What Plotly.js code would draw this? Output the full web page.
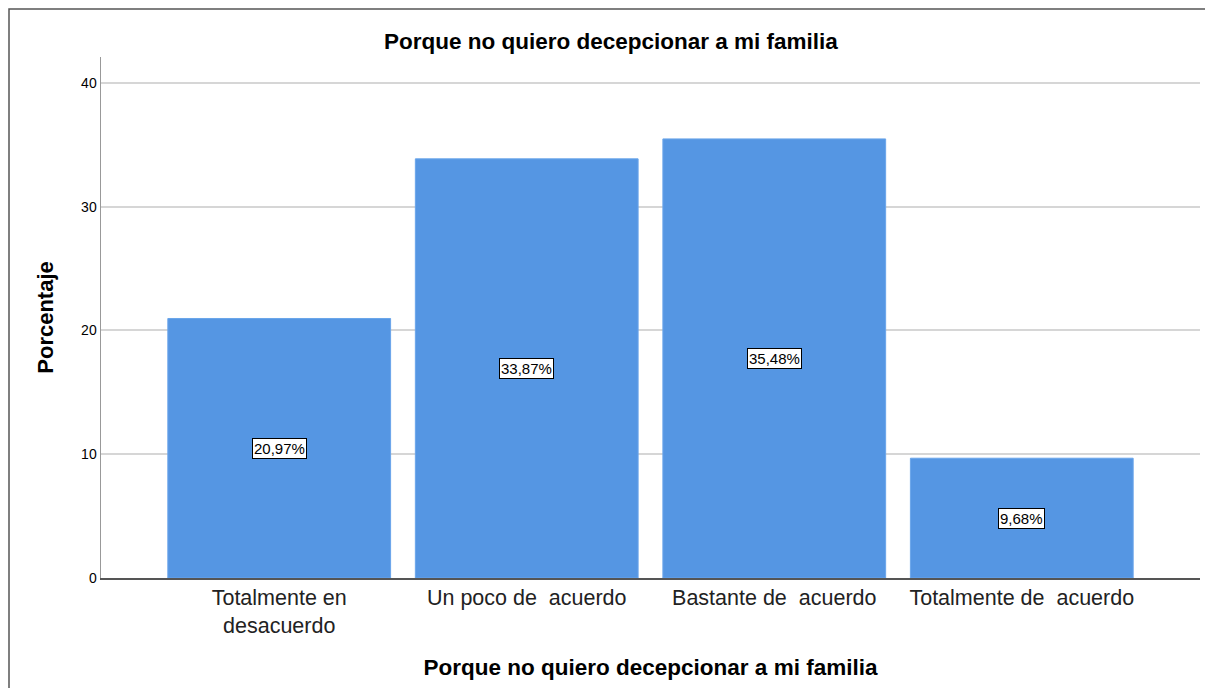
<!DOCTYPE html>
<html>
<head>
<meta charset="utf-8">
<script src="https://cdn.plot.ly/plotly-3.0.1.min.js"></script>
<style>html,body{margin:0;padding:0;background:#fff;}#chart{width:1205px;height:688px;}</style>
</head>
<body>
<div id="chart"></div>
<script>
var categories = ["Totalmente en<br>desacuerdo", "Un poco de  acuerdo", "Bastante de  acuerdo", "Totalmente de  acuerdo"];
var percentages = [20.97, 33.87, 35.48, 9.68];
var valueLabels = ["20,97%", "33,87%", "35,48%", "9,68%"];
var yTicks = [0, 10, 20, 30, 40];

var xs = categories.map(function(c, i){ return i; });
var font = "Liberation Sans, Arial, sans-serif";

var trace = {
  type: "bar",
  x: xs,
  y: percentages,
  width: 0.9,
  marker: {color: "#5596E3", line: {color: "#6aa5ea", width: 1}},
  hoverinfo: "none"
};

var annotations = percentages.map(function(v, i){
  return {
    x: i, y: v / 2, xref: "x", yref: "y",
    text: valueLabels[i], showarrow: false,
    font: {family: font, size: 15, color: "#000"},
    bgcolor: "#ffffff", bordercolor: "#000000", borderwidth: 1, borderpad: 1
  };
});

var layout = {
  width: 1205, height: 688,
  margin: {l: 101, r: 5, t: 57, b: 110},
  paper_bgcolor: "#ffffff", plot_bgcolor: "#ffffff",
  showlegend: false,
  title: {text: "<b>Porque no quiero decepcionar a mi familia</b>", x: 0.507, xref: "container", y: 0.94, yref: "container", xanchor: "center", yanchor: "middle",
          font: {family: font, size: 22.5, color: "#000"}},
  xaxis: {
    range: [-0.72, 3.72],
    tickmode: "array", tickvals: xs, ticktext: categories,
    showgrid: false, zeroline: false,
    showline: true, linecolor: "#555", linewidth: 1.5,
    ticks: "", tickfont: {family: font, size: 21.5, color: "#222"},
    title: {text: "<b>Porque no quiero decepcionar a mi familia</b>", font: {family: font, size: 22.5, color: "#000"}, standoff: 22}
  },
  yaxis: {
    range: [0, 42.1],
    tickmode: "array", tickvals: yTicks,
    showgrid: true, gridcolor: "#d6d6d6", gridwidth: 2,
    zeroline: false,
    showline: true, linecolor: "#999", linewidth: 1.5,
    ticks: "", tickfont: {family: font, size: 14, color: "#000"},
    title: {text: "<b>Porcentaje</b>", font: {family: font, size: 22, color: "#000"}, standoff: 21}
  },
  annotations: annotations,
  shapes: [{
    type: "rect", xref: "paper", yref: "paper",
    x0: (9 - 101) / 1099, x1: 1.2, y0: -0.5, y1: (578 - 9) / 521,
    line: {color: "#555", width: 1.5}, fillcolor: "rgba(0,0,0,0)", layer: "above"
  }]
};

Plotly.newPlot("chart", [trace], layout, {displayModeBar: false, staticPlot: true});
</script>
</body>
</html>
